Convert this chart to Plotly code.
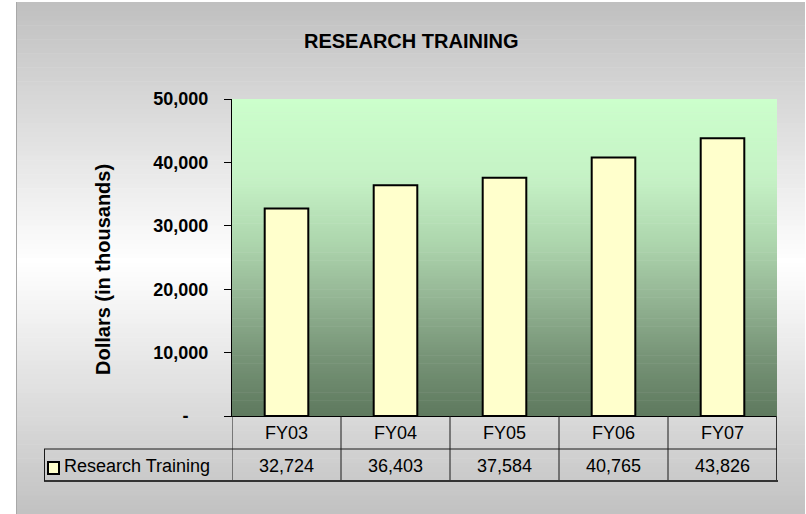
import plotly.graph_objects as go

# ---- data ----
categories = ["FY03", "FY04", "FY05", "FY06", "FY07"]
research_training = [32724, 36403, 37584, 40765, 43826]
series_name = "Research Training"
chart_title = "RESEARCH TRAINING"
y_title = "Dollars (in thousands)"
y_tickvals = [0, 10000, 20000, 30000, 40000, 50000]
y_ticktext = ["-\u00a0\u00a0\u00a0\u00a0", "10,000", "20,000", "30,000", "40,000", "50,000"]

W, H = 806, 514
FONT = "Liberation Sans, Arial, sans-serif"

def fx(px):
    return px / W

def fy(py):
    return 1 - py / H

# plot area in pixels
PX0, PX1, PY0, PY1 = 232, 777, 99, 416

shapes = []

# outer grey gradient panel (vertical: grey -> white -> grey)
BX0, BX1, BY0, BY1 = 16, 805, 2, 514
n_outer = 110
step = (BY1 - BY0) / n_outer
for i in range(n_outer):
    y0 = BY0 + i * step
    y1 = y0 + step
    ym = (y0 + y1) / 2
    t = abs(ym - 262) / 258
    g = int(round(255 - 63 * min(t, 1)))
    shapes.append(dict(type="rect", xref="paper", yref="paper",
                       x0=fx(BX0), x1=fx(BX1), y0=fy(min(y1 + 0.6, BY1)), y1=fy(y0),
                       fillcolor=f"rgb({g},{g},{g})", line=dict(width=0), layer="below"))
shapes.append(dict(type="line", xref="paper", yref="paper",
                   x0=fx(BX0 + 0.5), x1=fx(BX0 + 0.5), y0=fy(BY0), y1=fy(BY1),
                   line=dict(color="#a8a8a8", width=1), layer="below"))

# plot area green gradient
stops = [(0.0, (204, 255, 204)), (0.25, (197, 242, 197)), (0.45, (174, 214, 174)),
         (0.6, (152, 186, 152)), (0.8, (121, 150, 121)), (1.0, (94, 121, 94))]

def green(t):
    for (t0, c0), (t1, c1) in zip(stops[:-1], stops[1:]):
        if t <= t1:
            f = (t - t0) / (t1 - t0)
            return tuple(int(round(a + (b - a) * f)) for a, b in zip(c0, c1))
    return stops[-1][1]

n_inner = 120
step = (PY1 - PY0) / n_inner
for i in range(n_inner):
    y0 = PY0 + i * step
    y1 = y0 + step
    t = (i + 0.5) / n_inner
    r, g, b = green(t)
    shapes.append(dict(type="rect", xref="paper", yref="paper",
                       x0=fx(PX0), x1=fx(PX1), y0=fy(min(y1 + 0.6, PY1)), y1=fy(y0),
                       fillcolor=f"rgb({r},{g},{b})", line=dict(width=0), layer="below"))

# ---- data table grid ----
ROW_MID, ROW_BOT = 449, 481
TBL_LEFT = 44
n = len(categories)
line_dark = dict(color="#1a1a1a", width=1)
for i in range(n + 1):
    last = (i == n)
    shapes.append(dict(type="line", xref="x", yref="paper",
                       x0=i - 0.5, x1=i - 0.5, y0=fy(PY1), y1=fy(ROW_BOT),
                       line=dict(color="#333333", width=2) if last else line_dark, layer="above"))
shapes.append(dict(type="line", xref="paper", yref="paper",
                   x0=fx(TBL_LEFT), x1=fx(PX1), y0=fy(ROW_MID), y1=fy(ROW_MID),
                   line=line_dark, layer="above"))
shapes.append(dict(type="line", xref="paper", yref="paper",
                   x0=fx(TBL_LEFT), x1=fx(PX1 + 1), y0=fy(ROW_BOT), y1=fy(ROW_BOT),
                   line=dict(color="#333333", width=2), layer="above"))
shapes.append(dict(type="line", xref="paper", yref="paper",
                   x0=fx(TBL_LEFT + 0.5), x1=fx(TBL_LEFT + 0.5), y0=fy(ROW_MID), y1=fy(ROW_BOT),
                   line=line_dark, layer="above"))
# legend key
shapes.append(dict(type="rect", xref="paper", yref="paper",
                   x0=fx(48), x1=fx(59), y0=fy(474), y1=fy(462),
                   fillcolor="#ffffcc", line=dict(color="black", width=2), layer="above"))

annotations = []
annotations.append(dict(text=chart_title, xref="paper", yref="paper", x=fx(411), y=fy(41),
                        xanchor="center", yanchor="middle", showarrow=False,
                        font=dict(family=FONT, size=20, color="black", weight="bold")))
annotations.append(dict(text=y_title, xref="paper", yref="paper", x=fx(103), y=fy(270),
                        xanchor="center", yanchor="middle", showarrow=False, textangle=-90,
                        font=dict(family=FONT, size=20, color="black", weight="bold")))
for cat, v in zip(categories, research_training):
    annotations.append(dict(text=cat, xref="x", yref="paper", x=cat, y=fy(433),
                            xanchor="center", yanchor="middle", showarrow=False,
                            font=dict(family=FONT, size=18, color="black")))
    annotations.append(dict(text=f"{v:,}", xref="x", yref="paper", x=cat, y=fy(466),
                            xanchor="center", yanchor="middle", showarrow=False,
                            font=dict(family=FONT, size=18, color="black")))
annotations.append(dict(text=series_name, xref="paper", yref="paper", x=fx(62), y=fy(466),
                        xanchor="left", yanchor="middle", showarrow=False,
                        font=dict(family=FONT, size=18, color="black")))

fig = go.Figure()
fig.add_trace(go.Bar(x=categories, y=research_training, name=series_name,
                     width=0.4,
                     marker=dict(color="#ffffcc", line=dict(color="black", width=2)),
                     hoverinfo="x+y"))

fig.update_layout(
    width=W, height=H,
    autosize=False,
    margin=dict(l=0, r=0, t=0, b=0, pad=0, autoexpand=False),
    paper_bgcolor="white",
    plot_bgcolor="rgba(0,0,0,0)",
    showlegend=False,
    shapes=shapes,
    annotations=annotations,
    xaxis=dict(domain=[fx(PX0), fx(PX1)], range=[-0.5, n - 0.5], type="category",
               automargin=False,
               showticklabels=False, showgrid=False, zeroline=False, ticks="",
               showline=True, linecolor="black", linewidth=1),
    yaxis=dict(domain=[fy(PY1), fy(PY0)], range=[0, 50000],
               automargin=False,
               tickvals=y_tickvals, ticktext=y_ticktext,
               showgrid=False, zeroline=False,
               showline=True, linecolor="black", linewidth=1,
               ticks="outside", ticklen=7, tickcolor="black", tickwidth=1,
               ticklabelstandoff=12,
               tickfont=dict(family=FONT, size=18, color="black", weight="bold")),
)

fig.write_html("out.html", config={"displayModeBar": False},
               post_script="document.body.style.margin='0';")
